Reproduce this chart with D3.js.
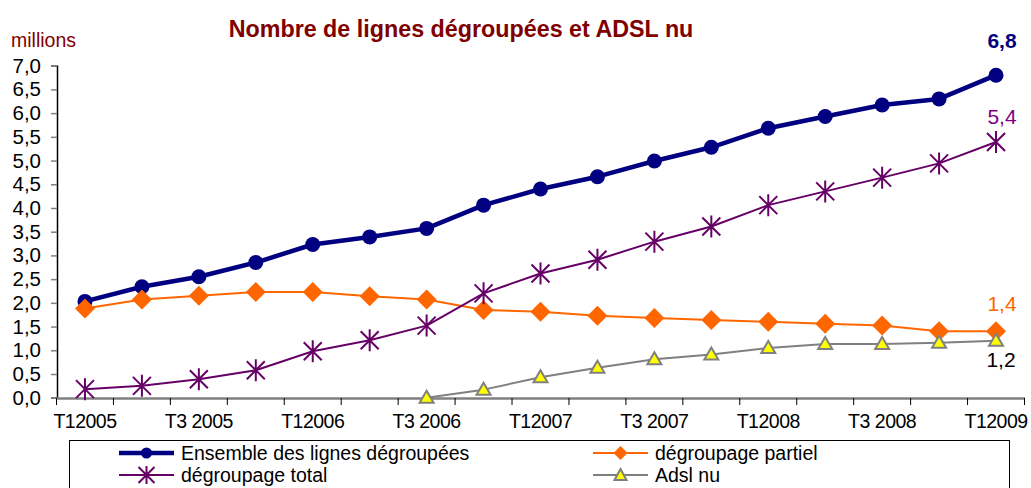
<!DOCTYPE html>
<html><head><meta charset="utf-8">
<script src="https://cdn.jsdelivr.net/npm/d3@7"></script>
<style>
html,body{margin:0;padding:0;background:#fff;}
svg{display:block;font-family:"Liberation Sans",Arial,sans-serif;}
</style></head>
<body>
<svg id="c" width="1031" height="488"></svg>
<script>
const categories = ["T1 2005","T2 2005","T3 2005","T4 2005","T1 2006","T2 2006","T3 2006","T4 2006",
  "T1 2007","T2 2007","T3 2007","T4 2007","T1 2008","T2 2008","T3 2008","T4 2008","T1 2009"];
const tickLabels = {"T1 2005":"T12005","T3 2005":"T3 2005","T1 2006":"T12006","T3 2006":"T3 2006",
  "T1 2007":"T12007","T3 2007":"T3 2007","T1 2008":"T12008","T3 2008":"T3 2008","T1 2009":"T12009"};
const ensemble = [2.03,2.34,2.55,2.85,3.23,3.39,3.57,4.06,4.40,4.66,4.99,5.28,5.68,5.93,6.17,6.30,6.80];
const partiel  = [1.88,2.07,2.15,2.23,2.23,2.14,2.07,1.85,1.81,1.73,1.68,1.64,1.60,1.56,1.52,1.40,1.40];
const total    = [0.18,0.25,0.39,0.58,0.98,1.21,1.52,2.20,2.62,2.91,3.29,3.61,4.06,4.35,4.64,4.94,5.39];
const adsl     = [null,null,null,null,null,null,0.00,0.17,0.43,0.63,0.81,0.91,1.05,1.13,1.13,1.16,1.20];
const yTicks = [0,0.5,1,1.5,2,2.5,3,3.5,4,4.5,5,5.5,6,6.5,7];
const seriesNames = ["Ensemble des lignes dégroupées","dégroupage partiel","dégroupage total","Adsl nu"];
const endLabels = ["6,8","1,4","5,4","1,2"];

const svg = d3.select("#c");
const fmt = v => d3.format(".1f")(v).replace(".", ",");

const x = d3.scaleBand().domain(categories).range([56.5, 1024.5]);
const y = d3.scaleLinear().domain([0,7]).range([397.7, 65.7]);
const cx = c => x(c) + x.bandwidth()/2;

// title
svg.append("text").attr("x", 461).attr("y", 37).attr("text-anchor","middle")
  .attr("font-size", 23.3).attr("font-weight","bold").attr("fill","#800000")
  .text("Nombre de lignes dégroupées et ADSL nu");
svg.append("text").attr("x", 11).attr("y", 47).attr("font-size", 19.5).attr("fill","#800000").text("millions");

// y axis
const ya = svg.append("g").attr("transform","translate(57,0)")
  .call(d3.axisLeft(y).tickValues(yTicks).tickFormat(fmt).tickSize(6).tickPadding(10));
ya.select(".domain").attr("stroke","#000").attr("stroke-width",1.5);
ya.selectAll(".tick line").attr("stroke","#808080").attr("stroke-width",1.5);
ya.selectAll(".tick text").attr("font-size",20.5).attr("fill","#000").attr("font-family","Liberation Sans, Arial, sans-serif");

// x axis
const xa = svg.append("g").attr("transform","translate(0,398)")
  .call(d3.axisBottom(x).tickSize(0).tickFormat(d => tickLabels[d] || "").tickPadding(16));
xa.select(".domain").attr("stroke","#808080").attr("stroke-width",2.5);
xa.selectAll(".tick text").attr("font-size",19.5).attr("fill","#000").attr("font-family","Liberation Sans, Arial, sans-serif").attr("letter-spacing","-0.5");
// category boundary ticks
const bounds = categories.map(c => x(c)).concat([x.range()[1]]);
svg.append("g").selectAll("line").data(bounds).join("line")
  .attr("x1", d => d).attr("x2", d => d).attr("y1", 398).attr("y2", 405)
  .attr("stroke","#000").attr("stroke-width",1);

// markers
function marker(g, type, color) {
  if (type === "circle") {
    g.append("circle").attr("r", 7.5).attr("fill", color);
  } else if (type === "diamond") {
    g.append("path").attr("d","M0,-10L10,0L0,10L-10,0Z").attr("fill", color);
  } else if (type === "star") {
    g.append("path").attr("d","M0,-11L0,11M-9,-9L9,9M-9,9L9,-9").attr("stroke", color).attr("stroke-width",2).attr("fill","none");
  } else if (type === "triangle") {
    g.append("path").attr("d","M0,-7L7,5L-7,5Z").attr("fill","#ffff00").attr("stroke","#808080").attr("stroke-width",2);
  }
}

const series = [
  {name: seriesNames[0], values: ensemble, color:"#000080", width:4.5, type:"circle"},
  {name: seriesNames[1], values: partiel, color:"#ff6600", width:2, type:"diamond"},
  {name: seriesNames[2], values: total, color:"#660066", width:2, type:"star"},
  {name: seriesNames[3], values: adsl, color:"#808080", width:2, type:"triangle"}
];

const line = d3.line().defined(d => d.v !== null).x(d => cx(d.c)).y(d => y(d.v));
series.forEach(s => {
  const pts = categories.map((c,i) => ({c, v: s.values[i]}));
  const g = svg.append("g");
  g.append("path").datum(pts).attr("d", line).attr("fill","none")
    .attr("stroke", s.color).attr("stroke-width", s.width).attr("stroke-linejoin","round");
  pts.filter(p => p.v !== null).forEach(p => {
    const m = g.append("g").attr("transform", `translate(${cx(p.c)},${y(p.v)})`);
    marker(m, s.type, s.color);
  });
});

// end labels
const last = categories[categories.length-1];
const lx = cx(last);
svg.append("text").attr("x", lx+6).attr("y", y(ensemble[16]) - 27).attr("text-anchor","middle")
  .attr("font-size",21).attr("font-weight","bold").attr("fill","#000080").text(endLabels[0]);
svg.append("text").attr("x", lx+6).attr("y", y(total[16]) - 18).attr("text-anchor","middle")
  .attr("font-size",21).attr("fill","#800080").text(endLabels[2]);
svg.append("text").attr("x", lx+6).attr("y", y(partiel[16]) - 20).attr("text-anchor","middle")
  .attr("font-size",21).attr("fill","#ff6600").text(endLabels[1]);
svg.append("text").attr("x", lx+5).attr("y", y(adsl[16]) + 26).attr("text-anchor","middle")
  .attr("font-size",21).attr("fill","#000").text(endLabels[3]);

// legend
svg.append("rect").attr("x",69.5).attr("y",440.5).attr("width",940).attr("height",60)
  .attr("fill","#fff").attr("stroke","#000").attr("stroke-width",1);
const legPos = [
  {x:119, y:453}, {x:593, y:453}, {x:119, y:475}, {x:593, y:475}
];
series.forEach((s,i) => {
  const p = legPos[i];
  const g = svg.append("g").attr("transform", `translate(${p.x},${p.y})`);
  g.append("line").attr("x1",0).attr("x2",55).attr("stroke",s.color).attr("stroke-width", s.width);
  const m = g.append("g").attr("transform","translate(27.5,0)");
  if (s.type === "circle") m.append("circle").attr("r",5.5).attr("fill",s.color);
  else if (s.type === "diamond") m.append("path").attr("d","M0,-7L7,0L0,7L-7,0Z").attr("fill",s.color);
  else if (s.type === "star") m.append("path").attr("d","M0,-9L0,9M-8,-8L8,8M-8,8L8,-8").attr("stroke",s.color).attr("stroke-width",2);
  else m.append("path").attr("d","M0,-6L6,5L-6,5Z").attr("fill","#ffff00").attr("stroke","#808080").attr("stroke-width",2);
  g.append("text").attr("x",62).attr("y",7).attr("font-size",19.5).attr("fill","#000").text(s.name);
});
</script>
</body></html>
